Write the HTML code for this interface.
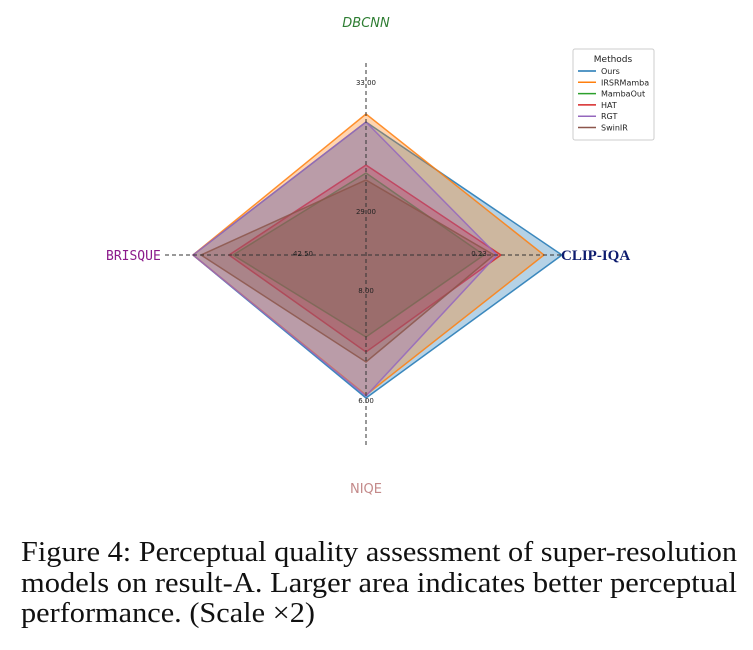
<!DOCTYPE html>
<html><head><meta charset="utf-8"><style>
html,body{margin:0;padding:0;background:#fff;width:753px;height:650px;overflow:hidden}
</style></head><body>
<svg id="chart" width="753" height="530" style="position:absolute;left:0;top:0"></svg>
<svg width="753" height="120" style="position:absolute;left:0;top:530px" font-family="Liberation Serif, serif" font-size="29" fill="#111">
<text x="21" y="31" textLength="716" lengthAdjust="spacingAndGlyphs">Figure 4: Perceptual quality assessment of super-resolution</text>
<text x="21" y="62" textLength="716" lengthAdjust="spacingAndGlyphs">models on result-A. Larger area indicates better perceptual</text>
<text x="21" y="92" textLength="294" lengthAdjust="spacingAndGlyphs">performance. (Scale ×2)</text>
</svg>
<script>
const axesNames = ["DBCNN","CLIP-IQA","NIQE","BRISQUE"];
const seriesNames = ["Ours","IRSRMamba","MambaOut","HAT","RGT","SwinIR"];
const seriesColors = ["#1f77b4","#ff7f0e","#2ca02c","#d62728","#9467bd","#8c564b"];
// normalized radii (0..1) per axis: DBCNN, CLIP-IQA, NIQE, BRISQUE
const valOurs = [0.665,0.98,0.715,0.865];
const valIRSR = [0.705,0.89,0.70,0.865];
const valMamba = [0.41,0.59,0.41,0.665];
const valHAT = [0.45,0.675,0.485,0.685];
const valRGT = [0.665,0.655,0.705,0.865];
const valSwin = [0.375,0.64,0.535,0.825];
const tickLabels = ["33.00","0.23","6.00","42.50"];
const tickInner = ["29.00","8.00"];
const allVals=[valOurs,valIRSR,valMamba,valHAT,valRGT,valSwin];
const NS="http://www.w3.org/2000/svg";
const svg=document.getElementById('chart');
const cx=366, cy=255, R=200;
const ang=[-Math.PI/2,0,Math.PI/2,Math.PI];
function pt(i,v){return [cx+R*v*Math.cos(ang[i]), cy+R*v*Math.sin(ang[i])];}
function mk(tag,attrs){const e=document.createElementNS(NS,tag);for(const k in attrs)e.setAttribute(k,attrs[k]);svg.appendChild(e);return e;}
allVals.forEach((vals,s)=>{
  const p=vals.map((v,i)=>pt(i,v).join(',')).join(' ');
  const poly=mk('polygon',{points:p,fill:seriesColors[s],'fill-opacity':0.33,stroke:seriesColors[s],'stroke-width':1.5,'stroke-opacity':0.85});
  
  
});
const l1=mk('line',{x1:cx,y1:63,x2:cx,y2:447,stroke:'#333','stroke-width':1,'stroke-dasharray':'4,3'});


const l2=mk('line',{x1:165,y1:cy,x2:562,y2:cy,stroke:'#333','stroke-width':1,'stroke-dasharray':'4,3'});


const tickPos=[[366,85],[479,256],[366,403],[303,256],[366,214],[366,293]];
const tickAll=tickLabels.concat(tickInner);
tickAll.forEach((t,i)=>{
  const e=mk('text',{x:tickPos[i][0],y:tickPos[i][1],'font-size':7,'font-family':'DejaVu Sans, sans-serif','text-anchor':'middle',fill:'#222'});
  e.textContent=t;
  
  
});
const labs=[
 {t:"DBCNN",x:366,y:27,fill:"#2e7d32",f:"DejaVu Sans, sans-serif",s:13,st:"italic",w:"normal",a:"middle"},
 {t:"CLIP-IQA",x:561,y:260,fill:"#0d1b6e",f:"Liberation Serif, serif",s:15,st:"normal",w:"bold",a:"start"},
 {t:"NIQE",x:366,y:493,fill:"#c48a8a",f:"DejaVu Sans, sans-serif",s:13,st:"normal",w:"normal",a:"middle"},
 {t:"BRISQUE",x:106,y:260,fill:"#8b1a8b",f:"DejaVu Sans Mono, monospace",s:13,st:"normal",w:"normal",a:"start"}];
labs.forEach(L=>{
  const e=mk('text',{x:L.x,y:L.y,fill:L.fill,'font-family':L.f,'font-size':L.s,'font-style':L.st,'font-weight':L.w,'text-anchor':L.a});
  e.textContent=L.t;
  
  
});
const g=document.createElementNS(NS,'g');svg.appendChild(g);


const box=document.createElementNS(NS,'rect');
[['x',573],['y',49],['width',81],['height',91],['fill','#fff'],['stroke','#ccc'],['rx',2]].forEach(a=>box.setAttribute(a[0],a[1]));g.appendChild(box);
const tt=document.createElementNS(NS,'text');
[['x',613],['y',62],['font-size',9],['font-family','DejaVu Sans, sans-serif'],['text-anchor','middle'],['fill','#222']].forEach(a=>tt.setAttribute(a[0],a[1]));
tt.textContent="Methods";g.appendChild(tt);
seriesNames.forEach((n,i)=>{
  const y=71+i*11.3;
  const ln=document.createElementNS(NS,'line');
  [['x1',578],['x2',596],['y1',y],['y2',y],['stroke',seriesColors[i]],['stroke-width',1.5]].forEach(a=>ln.setAttribute(a[0],a[1]));g.appendChild(ln);
  const tx=document.createElementNS(NS,'text');
  [['x',601],['y',y+3],['font-size',8],['font-family','DejaVu Sans, sans-serif'],['fill','#222']].forEach(a=>tx.setAttribute(a[0],a[1]));
  tx.textContent=n;g.appendChild(tx);
  
  
});
</script>
</body></html>
